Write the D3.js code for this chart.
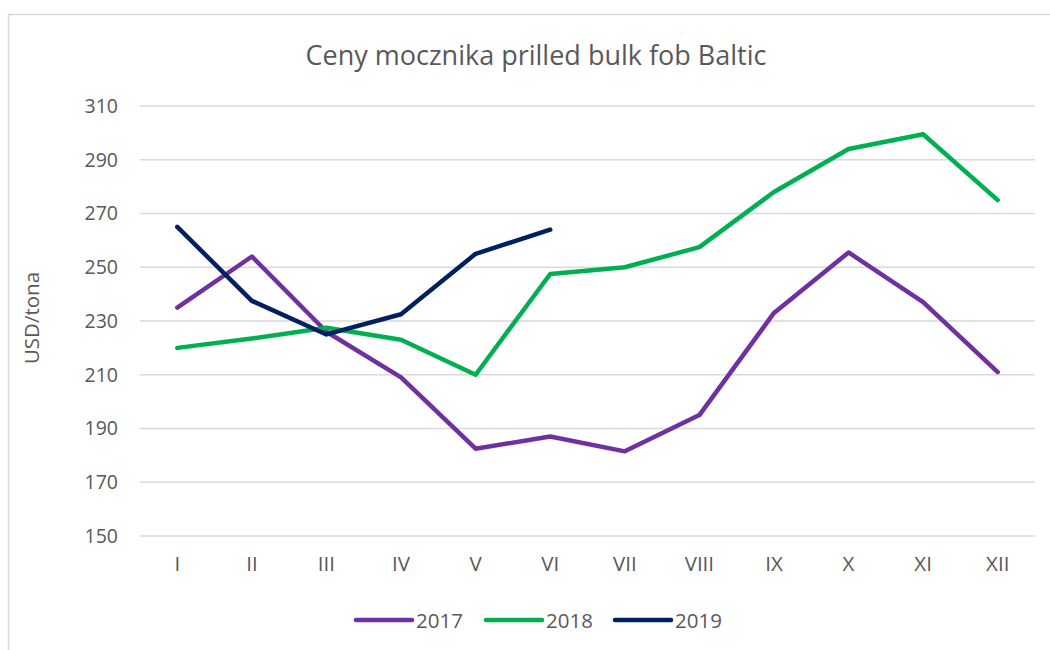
<!DOCTYPE html>
<html>
<head>
<meta charset="utf-8">
<script src="https://cdn.jsdelivr.net/npm/d3@7"></script>
<style>
  body { margin: 0; background: #fff; }
  text { font-family: "Open Sans", sans-serif; fill: #595959; }
</style>
</head>
<body>
<svg id="chart" width="1050" height="650"></svg>
<script>
const months = ["I", "II", "III", "IV", "V", "VI", "VII", "VIII", "IX", "X", "XI", "XII"];
const years = ["2017", "2018", "2019"];
const v2017 = [235, 254, 226, 209, 182.5, 187, 181.5, 195, 233, 255.5, 237, 211];
const v2018 = [220, 223.5, 227.5, 223, 210, 247.5, 250, 257.5, 278, 294, 299.5, 275];
const v2019 = [265, 237.5, 225, 232.5, 255, 264];
const yTicks = [150, 170, 190, 210, 230, 250, 270, 290, 310];
const colors = ["#7030a0", "#00b050", "#002060"];

const seriesList = [v2017, v2018, v2019].map((vals, i) => ({
  name: years[i],
  color: colors[i],
  values: vals.map((v, j) => ({ m: months[j], v: v }))
}));

const svg = d3.select("#chart");

// outer frame (only left and top visible in the original)
svg.append("rect")
  .attr("x", 8.5).attr("y", 14.5)
  .attr("width", 1100).attr("height", 700)
  .attr("fill", "none").attr("stroke", "#d9d9d9").attr("stroke-width", 1.5);

const x = d3.scaleBand().domain(months).range([140, 1035]);
const y = d3.scaleLinear().domain([150, 310]).range([536, 106]);

// title
svg.append("text")
  .attr("x", 536).attr("y", 65)
  .attr("text-anchor", "middle")
  .attr("font-size", 27)
  .text("Ceny mocznika prilled bulk fob Baltic");

// gridlines
svg.append("g")
  .selectAll("line")
  .data(yTicks)
  .join("line")
  .attr("x1", 140).attr("x2", 1035)
  .attr("y1", d => y(d)).attr("y2", d => y(d))
  .attr("stroke", "#d9d9d9").attr("stroke-width", 1.5);

// y axis labels
const yAxis = svg.append("g")
  .attr("transform", "translate(140,0)")
  .call(d3.axisLeft(y).tickValues(yTicks).tickSize(0).tickPadding(22));
yAxis.select(".domain").remove();
yAxis.selectAll("text").attr("font-size", 19.5).attr("font-family", "Open Sans").attr("fill", "#595959");

// x axis labels
const xAxis = svg.append("g")
  .attr("transform", "translate(0,536)")
  .call(d3.axisBottom(x).tickSize(0).tickPadding(20));
xAxis.select(".domain").remove();
xAxis.selectAll("text").attr("font-size", 20.5).attr("font-family", "Open Sans").attr("fill", "#595959");

// y axis title
svg.append("text")
  .attr("transform", "translate(39,318) rotate(-90)")
  .attr("text-anchor", "middle")
  .attr("font-size", 20.5)
  .text("USD/tona");

const line = d3.line()
  .x(d => x(d.m) + x.bandwidth() / 2)
  .y(d => y(d.v));

svg.append("g")
  .selectAll("path")
  .data(seriesList)
  .join("path")
  .attr("d", d => line(d.values))
  .attr("fill", "none")
  .attr("stroke", d => d.color)
  .attr("stroke-width", 4.5)
  .attr("stroke-linejoin", "round")
  .attr("stroke-linecap", "round");

// legend
const legendX = [356, 486, 615];
const legend = svg.append("g")
  .selectAll("g")
  .data(seriesList)
  .join("g")
  .attr("transform", (d, i) => `translate(${legendX[i]},620)`);

legend.append("line")
  .attr("x1", 0).attr("x2", 56)
  .attr("stroke", d => d.color)
  .attr("stroke-width", 4.5)
  .attr("stroke-linecap", "round");

legend.append("text")
  .attr("x", 60).attr("y", 7.5)
  .attr("font-size", 20.5)
  .text(d => d.name);
</script>
</body>
</html>
